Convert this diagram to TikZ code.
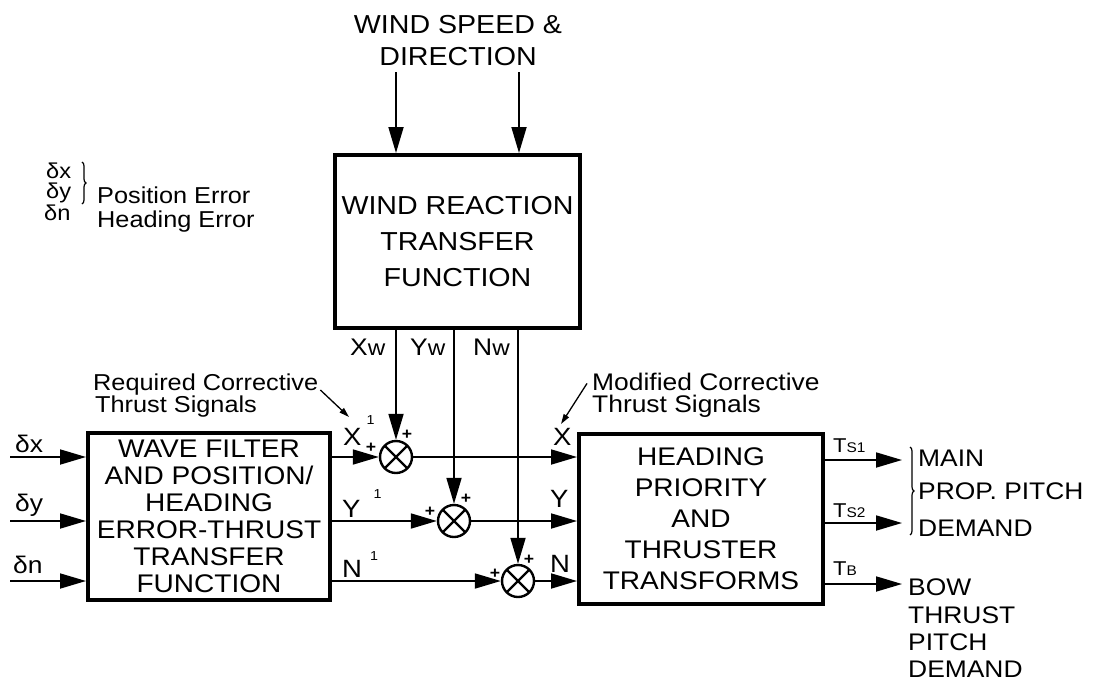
\documentclass[tikz,border=0pt]{standalone}
\usepackage{fontspec}
\setmainfont{Liberation Sans}[FakeStretch=1.1]
\usetikzlibrary{arrows.meta,decorations.pathreplacing,calc}
\newcommand{\fs}[2]{\fontsize{#1}{#2}\selectfont}
\begin{document}
\begin{tikzpicture}[x=1pt,y=-1pt,
 arr/.style={line width=1.8pt,-{Triangle[length=26pt,width=15pt]}},
 lead/.style={line width=1.3pt,-{Triangle[length=10pt,width=6pt]}},
 blk/.style={draw,line width=4pt,inner sep=0pt,align=center,font=\fs{25.5}{27}},
 sumnode/.style={draw,circle,line width=2.4pt,minimum size=32pt,inner sep=0pt,
   path picture={\draw[line width=2.4pt] (path picture bounding box.north west)--(path picture bounding box.south east)
     (path picture bounding box.north east)--(path picture bounding box.south west);}},
 lbl/.style={anchor=base west,inner sep=0pt,font=\fs{25}{27}},
 smalltxt/.style={anchor=base west,inner sep=0pt,font=\fs{23}{24}},
 pl/.style={inner sep=0pt,font=\fs{16}{16}\bfseries},
 bracestyle/.style={line width=1.2pt,decorate,decoration={brace,amplitude=4pt}},
]
\useasboundingbox (0,0) rectangle (1094,680);

% title
\node[anchor=base,inner sep=0pt,font=\fs{26}{28}] (t1) at (458,33) {WIND SPEED \&};
\node[anchor=base,inner sep=0pt,font=\fs{26}{28}] (t2) at (458,65) {DIRECTION};

% legend
\node[anchor=base west,inner sep=0pt,font=\fs{21.5}{20}] (lx) at (46,178) {δx};
\node[anchor=base west,inner sep=0pt,font=\fs{21.5}{20}] (ly) at (46,198) {δy};
\node[anchor=base west,inner sep=0pt,font=\fs{21.5}{20}] (ln) at (44,220) {δn};
\draw[bracestyle] (82,162) -- (82,204);
\node[smalltxt] (pe) at (97,203) {Position Error};
\node[smalltxt] (he) at (97,227) {Heading Error};

% blocks
\node[blk,minimum width=245pt,minimum height=173pt,font=\fs{26}{36}] (wind) at (457.5,241.5) {WIND REACTION\\TRANSFER\\FUNCTION};
\node[blk,minimum width=242pt,minimum height=167pt] (wave) at (209,516.5) {WAVE FILTER\\AND POSITION/\\HEADING\\ERROR-THRUST\\TRANSFER\\FUNCTION};
\node[blk,minimum width=244pt,minimum height=170pt,font=\fs{25.5}{31}] (head) at (701,519) {HEADING\\PRIORITY\\AND\\THRUSTER\\TRANSFORMS};

% summing junctions
\node[sumnode] (s1) at (396,457) {};
\node[sumnode] (s2) at (454,521) {};
\node[sumnode] (s3) at (518,581) {};
\node[pl] (p1a) at ([shift={(-25,-9)}]s1.center) {+};
\node[pl] (p1b) at ([shift={(11,-22)}]s1.center) {+};
\node[pl] (p2a) at ([shift={(-24,-9)}]s2.center) {+};
\node[pl] (p2b) at ([shift={(12,-22)}]s2.center) {+};
\node[pl] (p3a) at ([shift={(-23,-7)}]s3.center) {+};
\node[pl] (p3b) at ([shift={(11,-21)}]s3.center) {+};

% wind inputs
\coordinate (w1) at (396,72);
\coordinate (w2) at (519,72);
\draw[arr] (w1) -- (w1 |- wind.north);
\draw[arr] (w2) -- (w2 |- wind.north);

% wind outputs
\draw[arr] (wind.south -| s1) -- (s1.north);
\draw[arr] (wind.south -| s2) -- (s2.north);
\draw[arr] (wind.south -| s3) -- (s3.north);
\node[lbl,font=\fs{24}{24}] (xw) at (350,355) {X{\fs{22}{22}w}};
\node[lbl,font=\fs{24}{24}] (yw) at (410,355) {Y{\fs{22}{22}w}};
\node[lbl,font=\fs{24}{24}] (nw) at (473,355) {N{\fs{22}{22}w}};

% inputs
\coordinate (ix) at (10,457);
\coordinate (iy) at (10,521);
\coordinate (in) at (10,581);
\draw[arr] (ix) -- (ix -| wave.west);
\draw[arr] (iy) -- (iy -| wave.west);
\draw[arr] (in) -- (in -| wave.west);
\node[lbl,font=\fs{24}{24}] (dx) at (15,452) {δx};
\node[lbl,font=\fs{24}{24}] (dy) at (15,511) {δy};
\node[lbl,font=\fs{24}{24}] (dn) at (13,573) {δn};

% wave -> sums
\draw[arr] (wave.east |- s1) -- (s1.west);
\draw[arr] (wave.east |- s2) -- (s2.west);
\draw[arr] (wave.east |- s3) -- (s3.west);
\node[lbl] (x1) at (343,445) {X\hspace{5pt}\raisebox{21pt}{\fs{13}{13}1}};
\node[lbl] (y1) at (342,517) {Y\hspace{13pt}\raisebox{19pt}{\fs{13}{13}1}};
\node[lbl] (n1) at (342,577) {N\hspace{8pt}\raisebox{17pt}{\fs{13}{13}1}};

% sums -> heading block
\draw[arr] (s1.east) -- (s1 -| head.west);
\draw[arr] (s2.east) -- (s2 -| head.west);
\draw[arr] (s3.east) -- (s3 -| head.west);
\node[lbl] (xl) at (553,445) {X};
\node[lbl] (yl) at (550,507) {Y};
\node[lbl] (nl) at (550,572) {N};

% annotations
\node[smalltxt] (rc1) at (93,390) {Required Corrective};
\node[smalltxt] (rc2) at (95,412) {Thrust Signals};
\coordinate (rct) at (349,417);
\draw[lead] ([shift={(2,0)}]rc1.base east) -- (rct);
\node[smalltxt,font=\fs{24}{24}] (mc1) at (592,390) {Modified Corrective};
\node[smalltxt,font=\fs{24}{24}] (mc2) at (592,412) {Thrust Signals};
\coordinate (mct) at (561,424);
\draw[lead] ([shift={(-5,2)}]mc1.west) -- (mct);

% outputs
\coordinate (o1) at (902,460);
\coordinate (o2) at (902,523);
\coordinate (o3) at (902,584);
\draw[arr] (o1 -| head.east) -- (o1);
\draw[arr] (o2 -| head.east) -- (o2);
\draw[arr] (o3 -| head.east) -- (o3);
\node[lbl,font=\fs{20}{20}] (ts1) at (833,452) {T{\fs{14}{14}S1}};
\node[lbl,font=\fs{20}{20}] (ts2) at (833,517) {T{\fs{14}{14}S2}};
\node[lbl,font=\fs{20}{20}] (tb) at (833,575) {T{\fs{14}{14}B}};

\draw[bracestyle] (910,447) -- (910,535);
\node[lbl,font=\fs{24}{24}] (m1) at (918,466) {MAIN};
\node[lbl,font=\fs{24}{24}] (m2) at (918,499) {PROP. PITCH};
\node[lbl,font=\fs{24}{24}] (m3) at (918,536) {DEMAND};
\node[lbl,font=\fs{24}{24}] (b1) at (908,595) {BOW};
\node[lbl,font=\fs{24}{24}] (b2) at (908,623) {THRUST};
\node[lbl,font=\fs{24}{24}] (b3) at (908,650) {PITCH};
\node[lbl,font=\fs{24}{24}] (b4) at (908,677) {DEMAND};
\end{tikzpicture}
\end{document}
